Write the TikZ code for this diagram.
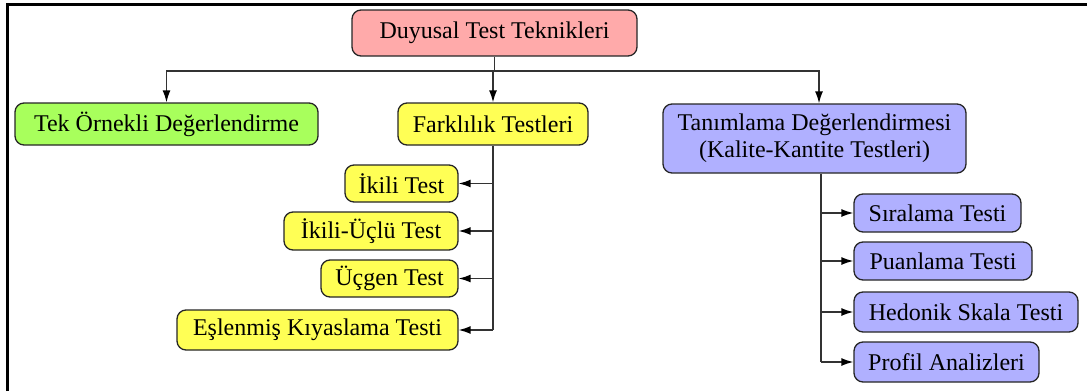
\documentclass[tikz,border=0pt]{standalone}
\usepackage{fontspec}
\setmainfont{Liberation Serif}
\usetikzlibrary{arrows.meta,calc}
\definecolor{rootfill}{HTML}{FFAAAA}
\definecolor{tekfill}{HTML}{A8FF5C}
\definecolor{farkfill}{HTML}{FFFF55}
\definecolor{tanfill}{HTML}{B0B0FF}
\tikzset{
  box/.style={draw=black!85, line width=1.3pt, rounded corners=9pt,
    inner sep=0pt, align=center, font=\fontsize{24}{27}\selectfont},
  link/.style={draw=black!80, line width=1.4pt},
  arr/.style={link, -{Latex[length=12pt,width=8pt,black]}},
}
\begin{document}
\begin{tikzpicture}[x=1pt,y=-1pt]
\useasboundingbox (0,0) rectangle (1087,391);
% frame
\draw[line width=3pt] (7,391) -- (7,4) -- (1087,4);

% top level
\node[box, fill=rootfill, minimum width=285pt, minimum height=46pt] (root) at (494.5,33) {Duyusal Test Teknikleri};
\node[box, fill=tekfill, minimum width=303pt, minimum height=42pt] (tek) at (166.5,124) {Tek Örnekli Değerlendirme};
\node[box, fill=farkfill, minimum width=190pt, minimum height=42pt] (fark) at (493,124) {Farklılık Testleri};
\node[box, fill=tanfill, minimum width=303pt, minimum height=69pt] (tan) at (814.5,138.5) {Tanımlama Değerlendirmesi\\(Kalite-Kantite Testleri)};

% difference tests
\node[box, fill=farkfill, minimum width=113pt, minimum height=37pt] (ikili) at (401.5,183.5) {İkili Test};
\node[box, fill=farkfill, minimum width=174pt, minimum height=38pt] (ikiuclu) at (371,231) {İkili-Üçlü Test};
\node[box, fill=farkfill, minimum width=137pt, minimum height=37pt] (ucgen) at (389.5,278.5) {Üçgen Test};
\node[box, fill=farkfill, minimum width=281pt, minimum height=40pt] (eslen) at (317.5,330) {Eşlenmiş Kıyaslama Testi};

% descriptive tests
\node[box, fill=tanfill, minimum width=167pt, minimum height=38pt] (siral) at (937.5,213) {Sıralama Testi};
\node[box, fill=tanfill, minimum width=178pt, minimum height=38pt] (puan) at (943,261) {Puanlama Testi};
\node[box, fill=tanfill, minimum width=224pt, minimum height=40pt] (hedon) at (966,312) {Hedonik Skala Testi};
\node[box, fill=tanfill, minimum width=185pt, minimum height=40pt] (profil) at (946.5,362) {Profil Analizleri};

% root to first level
\coordinate (bus) at (494.5,71);
\coordinate (tanin) at ([xshift=4.5pt]tan.north);
\draw[link] (root) -- (bus);
\draw[arr] (bus) -| (tek);
\draw[arr] (bus) -| (fark);
\draw[arr] (bus) -| (tanin);

% difference tests branch
\draw[link] (fark.south) -- (fark.south |- eslen.east);
\foreach \n in {ikili,ikiuclu,ucgen,eslen}
  \draw[arr] (fark.south |- \n.east) -- (\n.east);

% descriptive tests branch
\coordinate (tb) at ([xshift=6.5pt]tan.south);
\draw[link] (tb) -- (tb |- profil.west);
\foreach \n in {siral,puan,hedon,profil}
  \draw[arr] (tb |- \n.west) -- (\n.west);
\end{tikzpicture}
\end{document}
